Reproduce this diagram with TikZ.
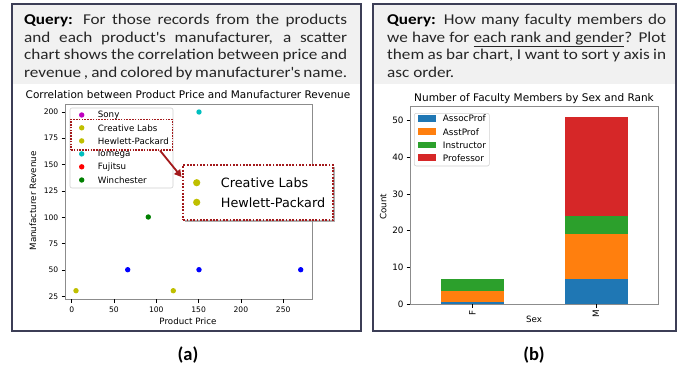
\documentclass[tikz,border=0pt]{standalone}
\usepackage{fontspec}
\setmainfont{Carlito}
\newfontfamily\qfont{Carlito}[FakeStretch=1.145]
\newfontfamily\mpl{DejaVu Sans}
\usetikzlibrary{arrows.meta,shadows}
\definecolor{frameC}{HTML}{3C3E56}
\definecolor{qfill}{HTML}{F1F1F1}
\definecolor{hlred}{HTML}{A3191B}
\definecolor{cM}{HTML}{BF00BF}
\definecolor{cY}{HTML}{BFBF00}
\definecolor{cC}{HTML}{00BFBF}
\definecolor{cR}{HTML}{FF0000}
\definecolor{cG}{HTML}{008000}
\definecolor{cB}{HTML}{0000FF}
\definecolor{tBlue}{HTML}{1F77B4}
\definecolor{tOrange}{HTML}{FF7F0E}
\definecolor{tGreen}{HTML}{2CA02C}
\definecolor{tRed}{HTML}{D62728}
\begin{document}
\begin{tikzpicture}[x=1pt,y=-1pt,
  frm/.style={draw=frameC, line width=2.4pt},
  qtext/.style={anchor=base west, inner sep=0pt, text width=#1, align=justify,
    font=\qfont\fontsize{15}{17.6}\selectfont, text=black!85},
  mplt/.style={inner sep=0pt, font=\mpl\fontsize{10.5}{12}\selectfont},
  mpll/.style={inner sep=0pt, font=\mpl\fontsize{8.7}{10}\selectfont},
  tka/.style={inner sep=0pt, font=\mpl\fontsize{7.6}{9}\selectfont},
  tkb/.style={inner sep=0pt, font=\mpl\fontsize{8.8}{10}\selectfont},
  lega/.style={inner sep=0pt, anchor=west, font=\mpl\fontsize{8.7}{10}\selectfont},
  legb/.style={inner sep=0pt, anchor=west, font=\mpl\fontsize{8.9}{10}\selectfont},
  spine/.style={draw=black!45, line width=0.7pt},
  tck/.style={draw=black, line width=0.7pt},
  legbox/.style={draw=black!18, fill=white, rounded corners=2pt, line width=0.6pt},
  hlbox/.style={draw=hlred, line width=1.5pt, dash pattern=on 1.5pt off 1.3pt, inner sep=0pt},
  zbox/.style={draw=hlred, fill=white, line width=1.8pt, dash pattern=on 1.8pt off 1.5pt, inner sep=0pt,
    drop shadow={shadow xshift=2pt, shadow yshift=-2pt, fill=black!45, opacity=0.7}},
  zbt/.style={inner sep=0pt, anchor=west, font=\mpl\fontsize{12.8}{15}\selectfont},
  captxt/.style={inner sep=0pt, font=\bfseries\fontsize{18.5}{20}\selectfont}
]
\useasboundingbox (0,0) rectangle (688,368);
\fill[white] (0,0) rectangle (688,368);
% frames
\fill[qfill] (12,4) rectangle (361,84);
\draw[frm] (12,4) rectangle (361,331);
\fill[qfill] (373,4) rectangle (676,84);
\draw[frm] (373,4) rectangle (676,331);
% queries
\node[qtext=323pt] (qa) at (24,24.7) {\textbf{\color{black}Query:} For those records from the products\linebreak and each product\textquotesingle s manufacturer, a scatter\linebreak chart shows the correlation between price and\linebreak revenue , and colored by manufacturer\textquotesingle s name.};
\node[qtext=279pt] (qb) at (387,24.7) {\textbf{\color{black}Query:} How many faculty members do\linebreak we have for \underline{each rank and gender}? Plot\linebreak them as bar chart, I want to sort y axis in\linebreak asc order.};

% ---------- plot (a)
\node[mplt] (ta) at (188,95) {Correlation between Product Price and Manufacturer Revenue};
\draw[spine] (65,104) rectangle (312,299);
\foreach \v in {25,50,...,200} {
  \pgfmathsetmacro\yy{322.64-1.0536*\v}
  \draw[tck] (61.5,\yy) -- (65,\yy);
  \node[tka, anchor=east] (ya\v) at (58.5,\yy) {\v};
}
\foreach \v in {0,50,...,250} {
  \pgfmathsetmacro\xx{71.7+0.846*\v}
  \draw[tck] (\xx,299) -- (\xx,302.5);
  \node[tka, anchor=north] (xa\v) at (\xx,307) {\v};
}
\node[mpll, rotate=90] (yla) at (33,201) {Manufacturer Revenue};
\node[mpll] (xla) at (188,321) {Product Price};
% points
\fill[cC] (199,112) circle (2.7pt);
\fill[cG] (148.3,217) circle (2.7pt);
\fill[cB] (127.7,269.7) circle (2.7pt);
\fill[cB] (199,269.7) circle (2.7pt);
\fill[cB] (300.7,269.7) circle (2.7pt);
\fill[cY] (76,290.7) circle (2.7pt);
\fill[cY] (173.3,290.7) circle (2.7pt);
% legend a
\draw[legbox] (70,108) rectangle (173,188);
\fill[cM] (81.7,115) circle (2.7pt);
\node[lega] (la1) at (97.7,115) {Sony};
\fill[cY] (81.7,127.8) circle (2.7pt);
\node[lega] (la2) at (97.7,127.8) {Creative Labs};
\fill[cY] (81.7,140.9) circle (2.7pt);
\node[lega] (la3) at (97.7,140.9) {Hewlett-Packard};
\fill[cC] (81.7,153.9) circle (2.7pt);
\node[lega] (la4) at (97.7,153.9) {Iomega};
\fill[cR] (81.7,166.8) circle (2.7pt);
\node[lega] (la5) at (97.7,166.8) {Fujitsu};
\fill[cG] (81.7,180) circle (2.7pt);
\node[lega] (la6) at (97.7,180) {Winchester};
% highlight
\node[hlbox, minimum width=101.3pt, minimum height=30.7pt] (hl) at (121.7,134.7) {};
\node[zbox, minimum width=150pt, minimum height=55pt] (zb) at (258.3,192.5) {};
\fill[cY] (196.7,182.7) circle (3.6pt);
\node[zbt] (zt1) at (220.7,182.7) {Creative Labs};
\fill[cY] (196.7,202.3) circle (3.6pt);
\node[zbt] (zt2) at (220.7,202.3) {Hewlett-Packard};
\coordinate (arS) at (160,150.5);
\coordinate (arE) at (181.5,177);
\draw[hlred, line width=1.8pt, -{Triangle[length=7pt,width=7.5pt]}] (arS) -- (arE);

% ---------- plot (b)
\node[mplt] (tb) at (534,98.3) {Number of Faculty Members by Sex and Rank};
% bars
\fill[tBlue] (441,304.3) rectangle (503.7,301.8);
\fill[tOrange] (441,301.8) rectangle (503.7,291);
\fill[tGreen] (441,291) rectangle (503.7,279);
\fill[tBlue] (565,304.3) rectangle (627.7,278.5);
\fill[tOrange] (565,278.5) rectangle (627.7,234.4);
\fill[tGreen] (565,234.4) rectangle (627.7,216);
\fill[tRed] (565,216) rectangle (627.7,116.6);
\draw[spine] (410,106.7) rectangle (658.3,304.3);
\foreach \v in {0,10,...,50} {
  \pgfmathsetmacro\yy{304.3-3.68*\v}
  \draw[tck] (406.5,\yy) -- (410,\yy);
  \node[tkb, anchor=east] (yb\v) at (403.7,\yy) {\v};
}
\draw[tck] (472.5,304.3) -- (472.5,307.8);
\node[tkb, rotate=90, anchor=east] (xbF) at (472.5,310) {F};
\draw[tck] (596,304.3) -- (596,307.8);
\node[tkb, rotate=90, anchor=east] (xbM) at (596,310) {M};
\node[mpll] (xlb) at (534,319.3) {Sex};
\node[mpll, rotate=90] (ylb) at (383.3,206.7) {Count};
% legend b
\draw[legbox] (414.3,113.3) rectangle (489.3,166);
\fill[tBlue] (418.3,115) rectangle (436,121.7);
\node[legb] (lb1) at (442.7,118.3) {AssocProf};
\fill[tOrange] (418.3,128.4) rectangle (436,135.1);
\node[legb] (lb2) at (442.7,131.7) {AsstProf};
\fill[tGreen] (418.3,141.7) rectangle (436,148.4);
\node[legb] (lb3) at (442.7,145) {Instructor};
\fill[tRed] (418.3,154.4) rectangle (436,161.1);
\node[legb] (lb4) at (442.7,157.7) {Professor};

% captions
\node[captxt] (ca) at (188,355) {(a)};
\node[captxt] (cb) at (534,355) {(b)};
\end{tikzpicture}
\end{document}
